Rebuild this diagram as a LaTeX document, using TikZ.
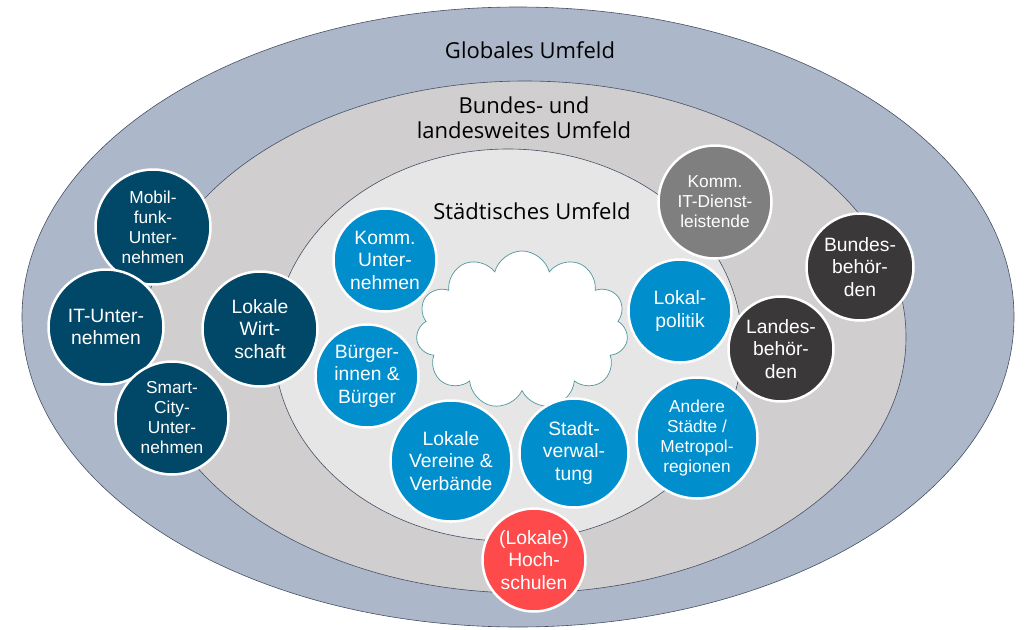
\documentclass[tikz,border=0pt]{standalone}
\usepackage{fontspec}
\setmainfont{Liberation Sans}
\newfontfamily\umfeldfont{Open Sans}
\usetikzlibrary{shapes.symbols}
\definecolor{globalblau}{RGB}{172,184,202}
\definecolor{bundgrau}{RGB}{208,206,207}
\definecolor{stadtgrau}{RGB}{230,230,230}
\definecolor{randlinie}{RGB}{70,80,100}
\definecolor{dunkelblau}{RGB}{1,72,104}
\definecolor{hellblau}{RGB}{0,142,204}
\definecolor{mittelgrau}{RGB}{127,127,127}
\definecolor{anthrazit}{RGB}{58,56,56}
\definecolor{hochrot}{RGB}{255,74,76}
\definecolor{wolkenrand}{RGB}{80,150,155}
\begin{document}
\begin{tikzpicture}[x = 1pt, y = -1pt,
        umfeld/.style = {font = \umfeldfont\fontsize{22}{25}\selectfont, align = center, inner sep = 0pt},
        akteur/.style = {circle, draw = white, line width = 2.5pt, text = white, align = center, inner sep = 0pt, minimum size = #1},
        klein/.style = {font = \fontsize{17.3}{20}\selectfont},
        gross/.style = {font = \fontsize{19.3}{22.5}\selectfont}]
        \useasboundingbox (0, 0) rectangle (1030, 629);
        \draw[fill = globalblau, draw = randlinie, line width = 0.6pt] (518, 317) ellipse [x radius = 496, y radius = 310];
        \draw[fill = bundgrau, draw = randlinie, line width = 0.6pt] (525, 337) ellipse [x radius = 381, y radius = 256];
        \draw[fill = stadtgrau, draw = randlinie, line width = 0.6pt] (508, 345) ellipse [x radius = 234, y radius = 196];
        \node[cloud, cloud puffs = 11, aspect = 1.4, fill = white, draw = wolkenrand, line width = 0.7pt, minimum width = 212pt, minimum height = 158pt] (wolke) at (522, 330) {};
        \node[umfeld] (global) at (530, 50) {Globales Umfeld};
        \node[umfeld] (bund) at (524, 118) {Bundes- und\\landesweites Umfeld};
        \node[umfeld] (stadt) at (532, 211) {Städtisches Umfeld};
        \node[akteur = 115pt, fill = dunkelblau, klein] (mobilfunk) at (153, 227) {Mobil-\\funk-\\Unter-\\nehmen};
        \node[akteur = 115pt, fill = dunkelblau, gross] (itunt) at (106, 327) {IT-Unter-\\nehmen};
        \node[akteur = 113pt, fill = dunkelblau, klein] (smartcity) at (172, 418) {Smart-\\City-\\Unter-\\nehmen};
        \node[akteur = 115pt, fill = dunkelblau, gross] (wirtschaft) at (260, 329) {Lokale\\Wirt-\\schaft};
        \node[akteur = 103pt, fill = hellblau, gross] (kommunt) at (385, 260) {Komm.\\Unter-\\nehmen};
        \node[akteur = 103pt, fill = hellblau, gross] (buerger) at (367, 376) {Bürger-\\innen \&\\Bürger};
        \node[akteur = 121pt, fill = hellblau, gross] (vereine) at (451, 461) {Lokale\\Vereine \&\\Verbände};
        \node[akteur = 109pt, fill = hellblau, gross] (verwaltung) at (574, 453) {Stadt-\\verwal-\\tung};
        \node[akteur = 121pt, fill = hellblau, klein] (staedte) at (697, 438) {Andere\\Städte /\\Metropol-\\regionen};
        \node[akteur = 113pt, fill = mittelgrau, klein] (itdienst) at (715, 202) {Komm.\\IT-Dienst-\\leistende};
        \node[akteur = 107pt, fill = anthrazit, gross] (bundesbeh) at (860, 267) {Bundes-\\behör-\\den};
        \node[akteur = 103pt, fill = hellblau, gross] (lokalpolitik) at (680, 311) {Lokal-\\politik};
        \node[akteur = 105pt, fill = anthrazit, gross] (landesbeh) at (781, 349) {Landes-\\behör-\\den};
        \node[akteur = 103pt, fill = hochrot, gross] (hochschulen) at (534, 560) {(Lokale)\\Hoch-\\schulen};
  \end{tikzpicture}
\end{document}
